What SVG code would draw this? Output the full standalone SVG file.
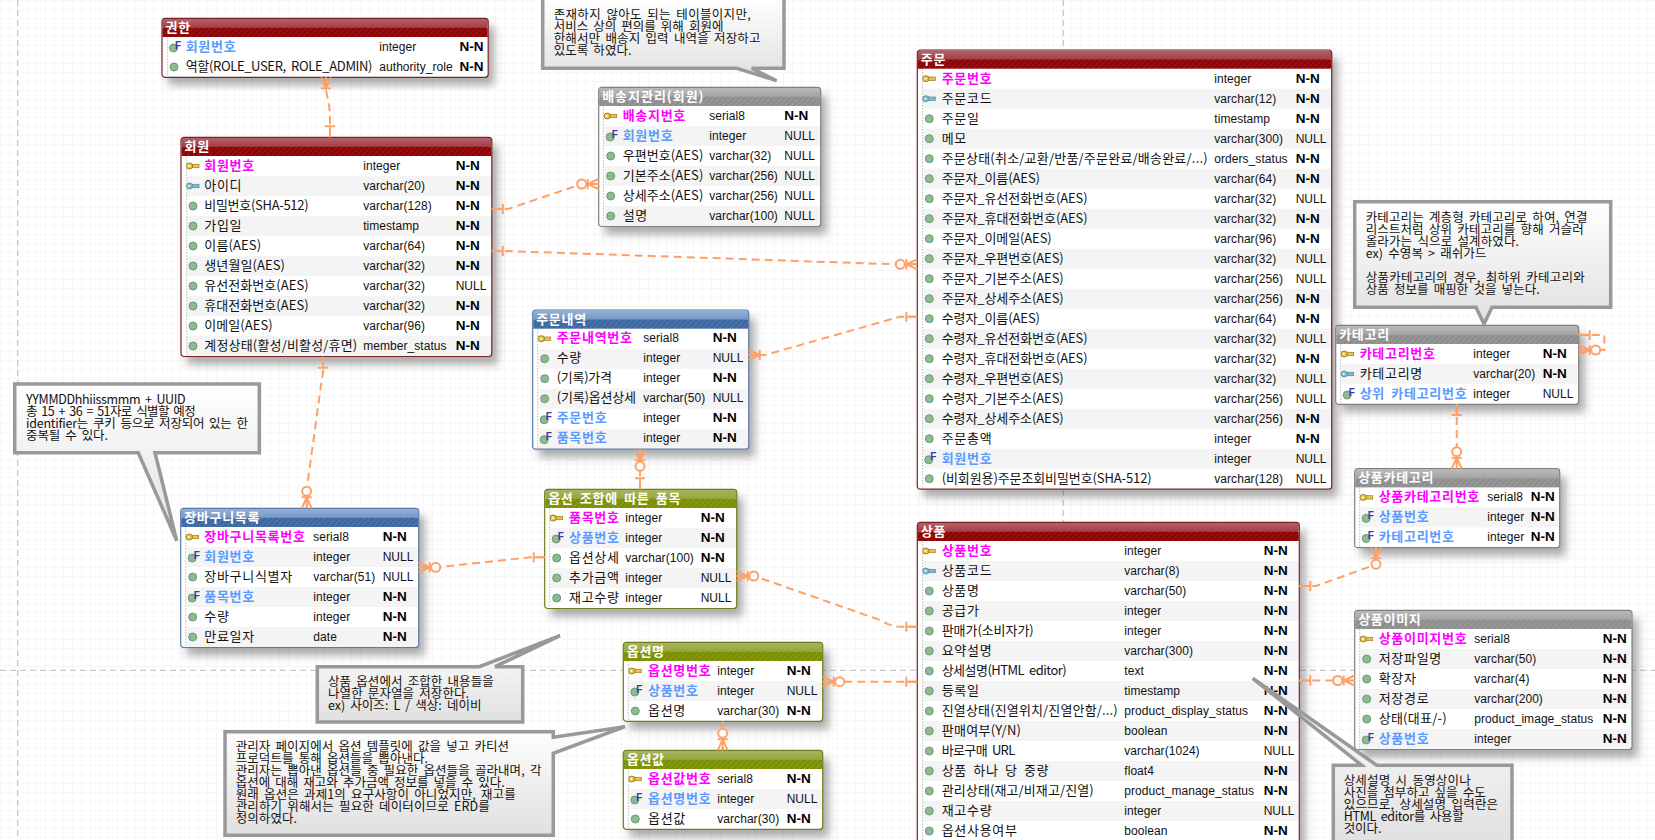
<svg xmlns="http://www.w3.org/2000/svg" width="1655" height="840" viewBox="0 0 1655 840">
<style>
text{font-family:"Noto Sans CJK KR","Liberation Sans",sans-serif;font-size:13px;letter-spacing:.7px;word-spacing:2.7px;fill:#111}
g[id^=t-]:not(#t-order) g text{transform:translateY(-.8px)}
.n{fill:#111}
.k{fill:#ff00ff;font-weight:700}
.f{fill:#5b9bff;font-weight:700}
.y{font-family:"Liberation Sans",sans-serif;font-size:12px;letter-spacing:.05px;word-spacing:0}
.u{font-family:"Liberation Sans",sans-serif;font-size:12px;letter-spacing:0;word-spacing:0}
.b{font-family:"Liberation Sans",sans-serif;font-size:13.5px;font-weight:700;letter-spacing:0;word-spacing:0;fill:#000}
.ht{fill:#fff;font-weight:700}
.t{font-size:12.5px;letter-spacing:.3px;word-spacing:2.3px;fill:#111}
.a{fill:#f4f4f4}
.bg{fill:#fff;filter:url(#sh)}
.fr{fill:none;stroke-width:1.2}
.dl{stroke:#bbb;stroke-width:1;stroke-dasharray:1.5 1.5}
.pg{stroke:#bdbdbd;stroke-width:1;stroke-dasharray:6 4;fill:none}
.c{fill:none;stroke:#ffa066;stroke-width:2;stroke-dasharray:8 5}
.m{fill:none;stroke:#ffa066;stroke-width:2}
.note{fill:url(#ng);stroke:#999;stroke-width:3.5;stroke-linejoin:miter}
.red .hi{fill:url(#lr)}.red .lo{fill:url(#hr)}.red .fr{stroke:#7d2222}
.gray .hi{fill:url(#lg)}.gray .lo{fill:url(#hg)}.gray .fr{stroke:#808080}
.blue .hi{fill:url(#lb)}.blue .lo{fill:url(#hb)}.blue .fr{stroke:#5a7aa8}
.green .hi{fill:url(#lo)}.green .lo{fill:url(#ho)}.green .fr{stroke:#6f7d1a}
</style>
<defs>
<pattern id="grid" width="9" height="9" patternUnits="userSpaceOnUse"><path d="M.5 0V9M0 .5H9" fill="none" stroke="#f7f7f7" stroke-width="1"/></pattern>
<filter id="sh" x="-10%" y="-10%" width="125%" height="130%"><feDropShadow dx="6" dy="8" stdDeviation="4" flood-color="#444" flood-opacity=".45"/></filter>
<linearGradient id="ng" x1="0" y1="0" x2="0" y2="1"><stop offset="0" stop-color="#fff"/><stop offset="1" stop-color="#e0e0e0"/></linearGradient>
<linearGradient id="lr" x1="0" y1="0" x2="0" y2="1"><stop offset="0" stop-color="#b5626a"/><stop offset="1" stop-color="#a03c42"/></linearGradient>
<linearGradient id="lg" x1="0" y1="0" x2="0" y2="1"><stop offset="0" stop-color="#bababa"/><stop offset="1" stop-color="#a2a2a2"/></linearGradient>
<linearGradient id="lb" x1="0" y1="0" x2="0" y2="1"><stop offset="0" stop-color="#94b2d8"/><stop offset="1" stop-color="#7496c6"/></linearGradient>
<linearGradient id="lo" x1="0" y1="0" x2="0" y2="1"><stop offset="0" stop-color="#a8b560"/><stop offset="1" stop-color="#94a63a"/></linearGradient>
<pattern id="hr" width="4" height="4" patternUnits="userSpaceOnUse" patternTransform="rotate(45)"><rect width="4" height="4" fill="#8b0206"/><rect width="2" height="4" fill="#95100f"/></pattern>
<pattern id="hg" width="4" height="4" patternUnits="userSpaceOnUse" patternTransform="rotate(45)"><rect width="4" height="4" fill="#8c8c8c"/><rect width="2" height="4" fill="#979797"/></pattern>
<pattern id="hb" width="4" height="4" patternUnits="userSpaceOnUse" patternTransform="rotate(45)"><rect width="4" height="4" fill="#3d669f"/><rect width="2" height="4" fill="#4a72aa"/></pattern>
<pattern id="ho" width="4" height="4" patternUnits="userSpaceOnUse" patternTransform="rotate(45)"><rect width="4" height="4" fill="#7a8c00"/><rect width="2" height="4" fill="#869810"/></pattern>
<g id="pk"><rect x="-1.5" y="-1.7" width="8" height="3.4" fill="#e9c445" stroke="#a07f1c" stroke-width=".7"/><ellipse cx="-3" cy="0" rx="3.3" ry="3" fill="#e9c445" stroke="#8f6f12" stroke-width=".8"/><circle cx="-3.4" cy="0" r=".9" fill="#fff"/></g>
<g id="ak"><rect x="-1.5" y="-1.7" width="8" height="3.4" fill="#7fbccc" stroke="#4f8a9c" stroke-width=".7"/><ellipse cx="-3" cy="0" rx="3.3" ry="3" fill="#7fbccc" stroke="#4f8a9c" stroke-width=".8"/><circle cx="-3.4" cy="0" r=".9" fill="#fff"/></g>
<circle id="ci" r="4" fill="#8fb98f" stroke="#6a9a78" stroke-width="1"/>
<g id="fk"><circle cx="-.5" cy="1" r="4" fill="#8fb98f" stroke="#6a9a78" stroke-width="1"/><text x="1" y="1.5" style="font-family:'Liberation Sans',sans-serif;font-size:10px;font-weight:700;letter-spacing:0;fill:#3a3aa6">F</text></g>
<marker id="oS" markerUnits="userSpaceOnUse" markerWidth="24" markerHeight="24" refX="0" refY="0" orient="auto" overflow="visible"><path class="m" d="M0 0H11M11 -5V5"/></marker>
<marker id="mE" markerUnits="userSpaceOnUse" markerWidth="24" markerHeight="24" refX="0" refY="0" orient="auto" overflow="visible"><path class="m" d="M0 -5L-11 0L0 5M0 0H-11M-11 -5V5"/></marker>
<marker id="zE" markerUnits="userSpaceOnUse" markerWidth="24" markerHeight="24" refX="0" refY="0" orient="auto" overflow="visible"><path class="m" d="M0 -5L-11 0L0 5M0 0H-11M-11 -5V5"/><circle class="m" cx="-17" cy="0" r="4.5" style="fill:#fff"/></marker>
</defs>

<rect width="1655" height="840" fill="#fff"/>
<rect width="1655" height="840" fill="url(#grid)"/>
<g id="page-lines">
<path class="pg" d="M17.7 0V840"/>
<path class="pg" d="M1063.3 0V840"/>
<path class="pg" d="M0 670.3H1655"/>
</g>

<g id="t-auth" class="red" transform="translate(162,18.3)">
<rect class="bg" width="326.2" height="59" rx="3"/><rect class="hi" x=".5" y=".5" width="325.2" height="9.5" rx="2.5"/><rect class="lo" x=".5" y="9.5" width="325.2" height="9.2"/>
<text class="ht" x="3.5" y="13.5">권한</text>
<path class="dl" d="M5.7 19V58"/>
<g transform="translate(0,33.2)"><use href="#fk" x="12" y="-4.5"/><text class="f" x="23.7">회원번호</text><text class="y" x="217.3">integer</text><text class="b" x="297.6">N-N</text></g>
<g transform="translate(0,53.2)"><use href="#ci" x="12" y="-4.5"/><text class="n" x="23.7" textLength="187.5">역할(ROLE_USER, ROLE_ADMIN)</text><text class="y" x="217.3">authority_role</text><text class="b" x="297.6">N-N</text></g>
<rect class="fr" width="326.2" height="59" rx="3"/>
</g>

<g id="t-member" class="red" transform="translate(181,137.3)">
<rect class="bg" width="310.8" height="219.2" rx="3"/><rect class="hi" x=".5" y=".5" width="309.8" height="9.5" rx="2.5"/><rect class="lo" x=".5" y="9.5" width="309.8" height="9.2"/>
<text class="ht" x="3.5" y="13.5">회원</text>
<g transform="translate(0,33.2)"><use href="#pk" x="11.5" y="-4.5"/><text class="k" x="23.3">회원번호</text><text class="y" x="182.2">integer</text><text class="b" x="274.7">N-N</text></g>
<g transform="translate(0,53.2)"><rect class="a" x="6" y="-14.5" width="304" height="20"/><use href="#ak" x="11.5" y="-4.5"/><text class="n" x="23.3">아이디</text><text class="y" x="182.2">varchar(20)</text><text class="b" x="274.7">N-N</text></g>
<g transform="translate(0,73.2)"><use href="#ci" x="12" y="-4.5"/><text class="n" x="23.3" textLength="105">비밀번호(SHA-512)</text><text class="y" x="182.2">varchar(128)</text><text class="b" x="274.7">N-N</text></g>
<g transform="translate(0,93.2)"><rect class="a" x="6" y="-14.5" width="304" height="20"/><use href="#ci" x="12" y="-4.5"/><text class="n" x="23.3">가입일</text><text class="y" x="182.2">timestamp</text><text class="b" x="274.7">N-N</text></g>
<g transform="translate(0,113.2)"><use href="#ci" x="12" y="-4.5"/><text class="n" x="23.3" textLength="57.5">이름(AES)</text><text class="y" x="182.2">varchar(64)</text><text class="b" x="274.7">N-N</text></g>
<g transform="translate(0,133.2)"><rect class="a" x="6" y="-14.5" width="304" height="20"/><use href="#ci" x="12" y="-4.5"/><text class="n" x="23.3" textLength="81.4">생년월일(AES)</text><text class="y" x="182.2">varchar(32)</text><text class="b" x="274.7">N-N</text></g>
<g transform="translate(0,153.2)"><use href="#ci" x="12" y="-4.5"/><text class="n" x="23.3" textLength="105">유선전화번호(AES)</text><text class="y" x="182.2">varchar(32)</text><text class="u" x="274.7">NULL</text></g>
<g transform="translate(0,173.2)"><rect class="a" x="6" y="-14.5" width="304" height="20"/><use href="#ci" x="12" y="-4.5"/><text class="n" x="23.3" textLength="105">휴대전화번호(AES)</text><text class="y" x="182.2">varchar(32)</text><text class="b" x="274.7">N-N</text></g>
<g transform="translate(0,193.2)"><use href="#ci" x="12" y="-4.5"/><text class="n" x="23.3" textLength="69">이메일(AES)</text><text class="y" x="182.2">varchar(96)</text><text class="b" x="274.7">N-N</text></g>
<g transform="translate(0,213.2)"><rect class="a" x="6" y="-14.5" width="304" height="20"/><use href="#ci" x="12" y="-4.5"/><text class="n" x="23.3" textLength="153.6">계정상태(활성/비활성/휴면)</text><text class="y" x="182.2">member_status</text><text class="b" x="274.7">N-N</text></g>
<path class="dl" d="M5.7 19V218"/>
<rect class="fr" width="310.8" height="219.2" rx="3"/>
</g>

<g id="t-address" class="gray" transform="translate(598.7,87.3)">
<rect class="bg" width="222" height="139.2" rx="3"/><rect class="hi" x=".5" y=".5" width="221" height="9.5" rx="2.5"/><rect class="lo" x=".5" y="9.5" width="221" height="9.2"/>
<text class="ht" x="3.5" y="13.5" textLength="102">배송지관리(회원)</text>
<g transform="translate(0,33.2)"><use href="#pk" x="11.5" y="-4.5"/><text class="k" x="24">배송지번호</text><text class="y" x="110.6">serial8</text><text class="b" x="185.6">N-N</text></g>
<g transform="translate(0,53.2)"><rect class="a" x="6" y="-14.5" width="215" height="20"/><use href="#fk" x="12" y="-4.5"/><text class="f" x="24">회원번호</text><text class="y" x="110.6">integer</text><text class="u" x="185.6">NULL</text></g>
<g transform="translate(0,73.2)"><use href="#ci" x="12" y="-4.5"/><text class="n" x="24" textLength="81.3">우편번호(AES)</text><text class="y" x="110.6">varchar(32)</text><text class="u" x="185.6">NULL</text></g>
<g transform="translate(0,93.2)"><rect class="a" x="6" y="-14.5" width="215" height="20"/><use href="#ci" x="12" y="-4.5"/><text class="n" x="24" textLength="81.3">기본주소(AES)</text><text class="y" x="110.6">varchar(256)</text><text class="u" x="185.6">NULL</text></g>
<g transform="translate(0,113.2)"><use href="#ci" x="12" y="-4.5"/><text class="n" x="24" textLength="81.3">상세주소(AES)</text><text class="y" x="110.6">varchar(256)</text><text class="u" x="185.6">NULL</text></g>
<g transform="translate(0,133.2)"><rect class="a" x="6" y="-14.5" width="215" height="20"/><use href="#ci" x="12" y="-4.5"/><text class="n" x="24">설명</text><text class="y" x="110.6">varchar(100)</text><text class="u" x="185.6">NULL</text></g>
<path class="dl" d="M4.7 19V138"/>
<rect class="fr" width="222" height="139.2" rx="3"/>
</g>

<g id="t-order" class="red" transform="translate(917.3,50)">
<rect class="bg" width="414.4" height="439.2" rx="3"/><rect class="hi" x=".5" y=".5" width="413.4" height="9.5" rx="2.5"/><rect class="lo" x=".5" y="9.5" width="413.4" height="9.2"/>
<text class="ht" x="3.5" y="13.5">주문</text>
<g transform="translate(0,33.2)"><use href="#pk" x="11.5" y="-4.5"/><text class="k" x="24.4">주문번호</text><text class="y" x="297">integer</text><text class="b" x="378.4">N-N</text></g>
<g transform="translate(0,53.2)"><rect class="a" x="6" y="-14.5" width="407.5" height="20"/><use href="#ak" x="11.5" y="-4.5"/><text class="n" x="24.4">주문코드</text><text class="y" x="297">varchar(12)</text><text class="b" x="378.4">N-N</text></g>
<g transform="translate(0,73.2)"><use href="#ci" x="12" y="-4.5"/><text class="n" x="24.4">주문일</text><text class="y" x="297">timestamp</text><text class="b" x="378.4">N-N</text></g>
<g transform="translate(0,93.2)"><rect class="a" x="6" y="-14.5" width="407.5" height="20"/><use href="#ci" x="12" y="-4.5"/><text class="n" x="24.4">메모</text><text class="y" x="297">varchar(300)</text><text class="u" x="378.4">NULL</text></g>
<g transform="translate(0,113.2)"><use href="#ci" x="12" y="-4.5"/><text class="n" x="24.4" textLength="266.7">주문상태(취소/교환/반품/주문완료/배송완료/...)</text><text class="y" x="297">orders_status</text><text class="b" x="378.4">N-N</text></g>
<g transform="translate(0,133.2)"><rect class="a" x="6" y="-14.5" width="407.5" height="20"/><use href="#ci" x="12" y="-4.5"/><text class="n" x="24.4" textLength="99">주문자_이름(AES)</text><text class="y" x="297">varchar(64)</text><text class="b" x="378.4">N-N</text></g>
<g transform="translate(0,153.2)"><use href="#ci" x="12" y="-4.5"/><text class="n" x="24.4" textLength="146.7">주문자_유선전화번호(AES)</text><text class="y" x="297">varchar(32)</text><text class="u" x="378.4">NULL</text></g>
<g transform="translate(0,173.2)"><rect class="a" x="6" y="-14.5" width="407.5" height="20"/><use href="#ci" x="12" y="-4.5"/><text class="n" x="24.4" textLength="146.7">주문자_휴대전화번호(AES)</text><text class="y" x="297">varchar(32)</text><text class="b" x="378.4">N-N</text></g>
<g transform="translate(0,193.2)"><use href="#ci" x="12" y="-4.5"/><text class="n" x="24.4" textLength="110.7">주문자_이메일(AES)</text><text class="y" x="297">varchar(96)</text><text class="b" x="378.4">N-N</text></g>
<g transform="translate(0,213.2)"><rect class="a" x="6" y="-14.5" width="407.5" height="20"/><use href="#ci" x="12" y="-4.5"/><text class="n" x="24.4" textLength="122.7">주문자_우편번호(AES)</text><text class="y" x="297">varchar(32)</text><text class="u" x="378.4">NULL</text></g>
<g transform="translate(0,233.2)"><use href="#ci" x="12" y="-4.5"/><text class="n" x="24.4" textLength="122.7">주문자_기본주소(AES)</text><text class="y" x="297">varchar(256)</text><text class="u" x="378.4">NULL</text></g>
<g transform="translate(0,253.2)"><rect class="a" x="6" y="-14.5" width="407.5" height="20"/><use href="#ci" x="12" y="-4.5"/><text class="n" x="24.4" textLength="122.7">주문자_상세주소(AES)</text><text class="y" x="297">varchar(256)</text><text class="b" x="378.4">N-N</text></g>
<g transform="translate(0,273.2)"><use href="#ci" x="12" y="-4.5"/><text class="n" x="24.4" textLength="99">수령자_이름(AES)</text><text class="y" x="297">varchar(64)</text><text class="b" x="378.4">N-N</text></g>
<g transform="translate(0,293.2)"><rect class="a" x="6" y="-14.5" width="407.5" height="20"/><use href="#ci" x="12" y="-4.5"/><text class="n" x="24.4" textLength="146.7">수령자_유선전화번호(AES)</text><text class="y" x="297">varchar(32)</text><text class="u" x="378.4">NULL</text></g>
<g transform="translate(0,313.2)"><use href="#ci" x="12" y="-4.5"/><text class="n" x="24.4" textLength="146.7">수령자_휴대전화번호(AES)</text><text class="y" x="297">varchar(32)</text><text class="b" x="378.4">N-N</text></g>
<g transform="translate(0,333.2)"><rect class="a" x="6" y="-14.5" width="407.5" height="20"/><use href="#ci" x="12" y="-4.5"/><text class="n" x="24.4" textLength="122.7">수령자_우편번호(AES)</text><text class="y" x="297">varchar(32)</text><text class="u" x="378.4">NULL</text></g>
<g transform="translate(0,353.2)"><use href="#ci" x="12" y="-4.5"/><text class="n" x="24.4" textLength="122.7">수령자_기본주소(AES)</text><text class="y" x="297">varchar(256)</text><text class="u" x="378.4">NULL</text></g>
<g transform="translate(0,373.2)"><rect class="a" x="6" y="-14.5" width="407.5" height="20"/><use href="#ci" x="12" y="-4.5"/><text class="n" x="24.4" textLength="122.7">수령자_상세주소(AES)</text><text class="y" x="297">varchar(256)</text><text class="b" x="378.4">N-N</text></g>
<g transform="translate(0,393.2)"><use href="#ci" x="12" y="-4.5"/><text class="n" x="24.4">주문총액</text><text class="y" x="297">integer</text><text class="b" x="378.4">N-N</text></g>
<g transform="translate(0,413.2)"><rect class="a" x="6" y="-14.5" width="407.5" height="20"/><use href="#fk" x="12" y="-4.5"/><text class="f" x="24.4">회원번호</text><text class="y" x="297">integer</text><text class="u" x="378.4">NULL</text></g>
<g transform="translate(0,433.2)"><use href="#ci" x="12" y="-4.5"/><text class="n" x="24.4" textLength="210.7">(비회원용)주문조회비밀번호(SHA-512)</text><text class="y" x="297">varchar(128)</text><text class="u" x="378.4">NULL</text></g>
<path class="dl" d="M5.3 19V438"/>
<rect class="fr" width="414.4" height="439.2" rx="3"/>
</g>

<g id="t-category" class="gray" transform="translate(1335.7,325.3)">
<rect class="bg" width="243" height="79" rx="3"/><rect class="hi" x=".5" y=".5" width="242" height="9.5" rx="2.5"/><rect class="lo" x=".5" y="9.5" width="242" height="9.2"/>
<text class="ht" x="3.5" y="13.5">카테고리</text>
<g transform="translate(0,33.2)"><use href="#pk" x="11.5" y="-4.5"/><text class="k" x="24">카테고리번호</text><text class="y" x="137.6">integer</text><text class="b" x="207">N-N</text></g>
<g transform="translate(0,53.2)"><rect class="a" x="6" y="-14.5" width="236" height="20"/><use href="#ak" x="11.5" y="-4.5"/><text class="n" x="24">카테고리명</text><text class="y" x="137.6">varchar(20)</text><text class="b" x="207">N-N</text></g>
<g transform="translate(0,73.2)"><use href="#fk" x="12" y="-4.5"/><text class="f" x="24">상위 카테고리번호</text><text class="y" x="137.6">integer</text><text class="u" x="207">NULL</text></g>
<path class="dl" d="M5 19V78"/>
<rect class="fr" width="243" height="79" rx="3"/>
</g>

<g id="t-product-category" class="gray" transform="translate(1354.7,468.7)">
<rect class="bg" width="205" height="79" rx="3"/><rect class="hi" x=".5" y=".5" width="204" height="9.5" rx="2.5"/><rect class="lo" x=".5" y="9.5" width="204" height="9.2"/>
<text class="ht" x="3.5" y="13.5">상품카테고리</text>
<g transform="translate(0,33.2)"><use href="#pk" x="11.5" y="-4.5"/><text class="k" x="24">상품카테고리번호</text><text class="y" x="132.6">serial8</text><text class="b" x="176">N-N</text></g>
<g transform="translate(0,53.2)"><rect class="a" x="6" y="-14.5" width="198" height="20"/><use href="#fk" x="12" y="-4.5"/><text class="f" x="24">상품번호</text><text class="y" x="132.6">integer</text><text class="b" x="176">N-N</text></g>
<g transform="translate(0,73.2)"><use href="#fk" x="12" y="-4.5"/><text class="f" x="24">카테고리번호</text><text class="y" x="132.6">integer</text><text class="b" x="176">N-N</text></g>
<path class="dl" d="M5 19V78"/>
<rect class="fr" width="205" height="79" rx="3"/>
</g>

<g id="t-cart" class="blue" transform="translate(180.7,508.3)">
<rect class="bg" width="238" height="139.2" rx="3"/><rect class="hi" x=".5" y=".5" width="237" height="9.5" rx="2.5"/><rect class="lo" x=".5" y="9.5" width="237" height="9.2"/>
<text class="ht" x="3.5" y="13.5">장바구니목록</text>
<g transform="translate(0,33.2)"><use href="#pk" x="11.5" y="-4.5"/><text class="k" x="23.6">장바구니목록번호</text><text class="y" x="132.6">serial8</text><text class="b" x="202">N-N</text></g>
<g transform="translate(0,53.2)"><rect class="a" x="6" y="-14.5" width="231" height="20"/><use href="#fk" x="12" y="-4.5"/><text class="f" x="23.6">회원번호</text><text class="y" x="132.6">integer</text><text class="u" x="202">NULL</text></g>
<g transform="translate(0,73.2)"><use href="#ci" x="12" y="-4.5"/><text class="n" x="23.6">장바구니식별자</text><text class="y" x="132.6">varchar(51)</text><text class="u" x="202">NULL</text></g>
<g transform="translate(0,93.2)"><rect class="a" x="6" y="-14.5" width="231" height="20"/><use href="#fk" x="12" y="-4.5"/><text class="f" x="23.6">품목번호</text><text class="y" x="132.6">integer</text><text class="b" x="202">N-N</text></g>
<g transform="translate(0,113.2)"><use href="#ci" x="12" y="-4.5"/><text class="n" x="23.6">수량</text><text class="y" x="132.6">integer</text><text class="b" x="202">N-N</text></g>
<g transform="translate(0,133.2)"><rect class="a" x="6" y="-14.5" width="231" height="20"/><use href="#ci" x="12" y="-4.5"/><text class="n" x="23.6">만료일자</text><text class="y" x="132.6">date</text><text class="b" x="202">N-N</text></g>
<path class="dl" d="M5 19V138"/>
<rect class="fr" width="238" height="139.2" rx="3"/>
</g>

<g id="t-order-item" class="blue" transform="translate(532.7,310)">
<rect class="bg" width="216" height="139.2" rx="3"/><rect class="hi" x=".5" y=".5" width="215" height="9.5" rx="2.5"/><rect class="lo" x=".5" y="9.5" width="215" height="9.2"/>
<text class="ht" x="3.5" y="13.5">주문내역</text>
<g transform="translate(0,33.2)"><use href="#pk" x="11.5" y="-4.5"/><text class="k" x="24">주문내역번호</text><text class="y" x="110.6">serial8</text><text class="b" x="180">N-N</text></g>
<g transform="translate(0,53.2)"><rect class="a" x="6" y="-14.5" width="209" height="20"/><use href="#ci" x="12" y="-4.5"/><text class="n" x="24">수량</text><text class="y" x="110.6">integer</text><text class="u" x="180">NULL</text></g>
<g transform="translate(0,73.2)"><use href="#ci" x="12" y="-4.5"/><text class="n" x="24" textLength="56">(기록)가격</text><text class="y" x="110.6">integer</text><text class="b" x="180">N-N</text></g>
<g transform="translate(0,93.2)"><rect class="a" x="6" y="-14.5" width="209" height="20"/><use href="#ci" x="12" y="-4.5"/><text class="n" x="24" textLength="80">(기록)옵션상세</text><text class="y" x="110.6">varchar(50)</text><text class="u" x="180">NULL</text></g>
<g transform="translate(0,113.2)"><use href="#fk" x="12" y="-4.5"/><text class="f" x="24">주문번호</text><text class="y" x="110.6">integer</text><text class="b" x="180">N-N</text></g>
<g transform="translate(0,133.2)"><rect class="a" x="6" y="-14.5" width="209" height="20"/><use href="#fk" x="12" y="-4.5"/><text class="f" x="24">품목번호</text><text class="y" x="110.6">integer</text><text class="b" x="180">N-N</text></g>
<path class="dl" d="M5 19V138"/>
<rect class="fr" width="216" height="139.2" rx="3"/>
</g>

<g id="t-sku" class="green" transform="translate(544.7,489.3)">
<rect class="bg" width="192" height="119.2" rx="3"/><rect class="hi" x=".5" y=".5" width="191" height="9.5" rx="2.5"/><rect class="lo" x=".5" y="9.5" width="191" height="9.2"/>
<text class="ht" x="3.5" y="13.5">옵션 조합에 따른 품목</text>
<g transform="translate(0,33.2)"><use href="#pk" x="11.5" y="-4.5"/><text class="k" x="24.3">품목번호</text><text class="y" x="80.6">integer</text><text class="b" x="156">N-N</text></g>
<g transform="translate(0,53.2)"><rect class="a" x="6" y="-14.5" width="185" height="20"/><use href="#fk" x="12" y="-4.5"/><text class="f" x="24.3">상품번호</text><text class="y" x="80.6">integer</text><text class="b" x="156">N-N</text></g>
<g transform="translate(0,73.2)"><use href="#ci" x="12" y="-4.5"/><text class="n" x="24.3">옵션상세</text><text class="y" x="80.6">varchar(100)</text><text class="b" x="156">N-N</text></g>
<g transform="translate(0,93.2)"><rect class="a" x="6" y="-14.5" width="185" height="20"/><use href="#ci" x="12" y="-4.5"/><text class="n" x="24.3">추가금액</text><text class="y" x="80.6">integer</text><text class="u" x="156">NULL</text></g>
<g transform="translate(0,113.2)"><use href="#ci" x="12" y="-4.5"/><text class="n" x="24.3">재고수량</text><text class="y" x="80.6">integer</text><text class="u" x="156">NULL</text></g>
<path class="dl" d="M5 19V118"/>
<rect class="fr" width="192" height="119.2" rx="3"/>
</g>

<g id="t-option-name" class="green" transform="translate(623.3,642.3)">
<rect class="bg" width="199.4" height="79" rx="3"/><rect class="hi" x=".5" y=".5" width="198.4" height="9.5" rx="2.5"/><rect class="lo" x=".5" y="9.5" width="198.4" height="9.2"/>
<text class="ht" x="3.5" y="13.5">옵션명</text>
<g transform="translate(0,33.2)"><use href="#pk" x="11.5" y="-4.5"/><text class="k" x="24.7">옵션명번호</text><text class="y" x="94">integer</text><text class="b" x="163.4">N-N</text></g>
<g transform="translate(0,53.2)"><rect class="a" x="6" y="-14.5" width="192.5" height="20"/><use href="#fk" x="12" y="-4.5"/><text class="f" x="24.7">상품번호</text><text class="y" x="94">integer</text><text class="u" x="163.4">NULL</text></g>
<g transform="translate(0,73.2)"><use href="#ci" x="12" y="-4.5"/><text class="n" x="24.7">옵션명</text><text class="y" x="94">varchar(30)</text><text class="b" x="163.4">N-N</text></g>
<path class="dl" d="M5 19V78"/>
<rect class="fr" width="199.4" height="79" rx="3"/>
</g>

<g id="t-option-value" class="green" transform="translate(623.3,750.3)">
<rect class="bg" width="199.4" height="79" rx="3"/><rect class="hi" x=".5" y=".5" width="198.4" height="9.5" rx="2.5"/><rect class="lo" x=".5" y="9.5" width="198.4" height="9.2"/>
<text class="ht" x="3.5" y="13.5">옵션값</text>
<g transform="translate(0,33.2)"><use href="#pk" x="11.5" y="-4.5"/><text class="k" x="24.7">옵션값번호</text><text class="y" x="94">serial8</text><text class="b" x="163.4">N-N</text></g>
<g transform="translate(0,53.2)"><rect class="a" x="6" y="-14.5" width="192.5" height="20"/><use href="#fk" x="12" y="-4.5"/><text class="f" x="24.7">옵션명번호</text><text class="y" x="94">integer</text><text class="u" x="163.4">NULL</text></g>
<g transform="translate(0,73.2)"><use href="#ci" x="12" y="-4.5"/><text class="n" x="24.7">옵션값</text><text class="y" x="94">varchar(30)</text><text class="b" x="163.4">N-N</text></g>
<path class="dl" d="M5 19V78"/>
<rect class="fr" width="199.4" height="79" rx="3"/>
</g>

<g id="t-product" class="red" transform="translate(917.3,522.3)">
<rect class="bg" width="382" height="340" rx="3"/><rect class="hi" x=".5" y=".5" width="381" height="9.5" rx="2.5"/><rect class="lo" x=".5" y="9.5" width="381" height="9.2"/>
<text class="ht" x="3.5" y="13.5">상품</text>
<g transform="translate(0,33.2)"><use href="#pk" x="11.5" y="-4.5"/><text class="k" x="24.4">상품번호</text><text class="y" x="207">integer</text><text class="b" x="346.4">N-N</text></g>
<g transform="translate(0,53.2)"><rect class="a" x="6" y="-14.5" width="375" height="20"/><use href="#ak" x="11.5" y="-4.5"/><text class="n" x="24.4">상품코드</text><text class="y" x="207">varchar(8)</text><text class="b" x="346.4">N-N</text></g>
<g transform="translate(0,73.2)"><use href="#ci" x="12" y="-4.5"/><text class="n" x="24.4">상품명</text><text class="y" x="207">varchar(50)</text><text class="b" x="346.4">N-N</text></g>
<g transform="translate(0,93.2)"><rect class="a" x="6" y="-14.5" width="375" height="20"/><use href="#ci" x="12" y="-4.5"/><text class="n" x="24.4">공급가</text><text class="y" x="207">integer</text><text class="b" x="346.4">N-N</text></g>
<g transform="translate(0,113.2)"><use href="#ci" x="12" y="-4.5"/><text class="n" x="24.4" textLength="92.7">판매가(소비자가)</text><text class="y" x="207">integer</text><text class="b" x="346.4">N-N</text></g>
<g transform="translate(0,133.2)"><rect class="a" x="6" y="-14.5" width="375" height="20"/><use href="#ci" x="12" y="-4.5"/><text class="n" x="24.4">요약설명</text><text class="y" x="207">varchar(300)</text><text class="b" x="346.4">N-N</text></g>
<g transform="translate(0,153.2)"><use href="#ci" x="12" y="-4.5"/><text class="n" x="24.4" textLength="125.7">상세설명(HTML editor)</text><text class="y" x="207">text</text><text class="b" x="346.4">N-N</text></g>
<g transform="translate(0,173.2)"><rect class="a" x="6" y="-14.5" width="375" height="20"/><use href="#ci" x="12" y="-4.5"/><text class="n" x="24.4">등록일</text><text class="y" x="207">timestamp</text><text class="b" x="346.4">N-N</text></g>
<g transform="translate(0,193.2)"><use href="#ci" x="12" y="-4.5"/><text class="n" x="24.4" textLength="176.7">진열상태(진열위치/진열안함/...)</text><text class="y" x="207">product_display_status</text><text class="b" x="346.4">N-N</text></g>
<g transform="translate(0,213.2)"><rect class="a" x="6" y="-14.5" width="375" height="20"/><use href="#ci" x="12" y="-4.5"/><text class="n" x="24.4" textLength="80">판매여부(Y/N)</text><text class="y" x="207">boolean</text><text class="b" x="346.4">N-N</text></g>
<g transform="translate(0,233.2)"><use href="#ci" x="12" y="-4.5"/><text class="n" x="24.4" textLength="74.3">바로구매 URL</text><text class="y" x="207">varchar(1024)</text><text class="u" x="346.4">NULL</text></g>
<g transform="translate(0,253.2)"><rect class="a" x="6" y="-14.5" width="375" height="20"/><use href="#ci" x="12" y="-4.5"/><text class="n" x="24.4">상품 하나 당 중량</text><text class="y" x="207">float4</text><text class="b" x="346.4">N-N</text></g>
<g transform="translate(0,273.2)"><use href="#ci" x="12" y="-4.5"/><text class="n" x="24.4" textLength="152.7">관리상태(재고/비재고/진열)</text><text class="y" x="207">product_manage_status</text><text class="b" x="346.4">N-N</text></g>
<g transform="translate(0,293.2)"><rect class="a" x="6" y="-14.5" width="375" height="20"/><use href="#ci" x="12" y="-4.5"/><text class="n" x="24.4">재고수량</text><text class="y" x="207">integer</text><text class="u" x="346.4">NULL</text></g>
<g transform="translate(0,313.2)"><use href="#ci" x="12" y="-4.5"/><text class="n" x="24.4">옵션사용여부</text><text class="y" x="207">boolean</text><text class="b" x="346.4">N-N</text></g>
<path class="dl" d="M5.3 19V340"/>
<rect class="fr" width="382" height="340" rx="3"/>
</g>

<g id="t-product-image" class="gray" transform="translate(1354.7,610.3)">
<rect class="bg" width="277.3" height="139.2" rx="3"/><rect class="hi" x=".5" y=".5" width="276.3" height="9.5" rx="2.5"/><rect class="lo" x=".5" y="9.5" width="276.3" height="9.2"/>
<text class="ht" x="3.5" y="13.5">상품이미지</text>
<g transform="translate(0,33.2)"><use href="#pk" x="11.5" y="-4.5"/><text class="k" x="24">상품이미지번호</text><text class="y" x="119.6">serial8</text><text class="b" x="248">N-N</text></g>
<g transform="translate(0,53.2)"><rect class="a" x="6" y="-14.5" width="270" height="20"/><use href="#ci" x="12" y="-4.5"/><text class="n" x="24">저장파일명</text><text class="y" x="119.6">varchar(50)</text><text class="b" x="248">N-N</text></g>
<g transform="translate(0,73.2)"><use href="#ci" x="12" y="-4.5"/><text class="n" x="24">확장자</text><text class="y" x="119.6">varchar(4)</text><text class="b" x="248">N-N</text></g>
<g transform="translate(0,93.2)"><rect class="a" x="6" y="-14.5" width="270" height="20"/><use href="#ci" x="12" y="-4.5"/><text class="n" x="24">저장경로</text><text class="y" x="119.6">varchar(200)</text><text class="b" x="248">N-N</text></g>
<g transform="translate(0,113.2)"><use href="#ci" x="12" y="-4.5"/><text class="n" x="24" textLength="68.7">상태(대표/-)</text><text class="y" x="119.6">product_image_status</text><text class="b" x="248">N-N</text></g>
<g transform="translate(0,133.2)"><rect class="a" x="6" y="-14.5" width="270" height="20"/><use href="#fk" x="12" y="-4.5"/><text class="f" x="24">상품번호</text><text class="y" x="119.6">integer</text><text class="b" x="248">N-N</text></g>
<path class="dl" d="M5 19V138"/>
<rect class="fr" width="277.3" height="139.2" rx="3"/>
</g>

<g id="connectors">
<path class="c" marker-start="url(#oS)" marker-end="url(#mE)" d="M330 137.3V120Q330 112 329 105L326 90V77.3"/>
<path class="c" marker-start="url(#oS)" marker-end="url(#zE)" d="M491.8 209H508L576 186Q578 184 582 184H598.7"/>
<path class="c" marker-start="url(#oS)" marker-end="url(#zE)" d="M491.8 251H505L895 264.3H917.3"/>
<path class="c" marker-start="url(#oS)" marker-end="url(#mE)" d="M917.3 316.7H900L765 355H748.7"/>
<path class="c" marker-start="url(#oS)" marker-end="url(#zE)" d="M323 356.7V372Q322 380 321 385L308 480Q306.7 487 306.7 492V508.3"/>
<path class="c" marker-start="url(#oS)" marker-end="url(#zE)" d="M640 489.3V449.3"/>
<path class="c" marker-start="url(#oS)" marker-end="url(#zE)" d="M544.7 557.3H530L445 566.5Q442 567.3 438 567.3H418.7"/>
<path class="c" marker-start="url(#oS)" marker-end="url(#zE)" d="M917.3 626.7H898Q890 626 880 620L757 577Q754 576 750 576H736.7"/>
<path class="c" marker-start="url(#oS)" marker-end="url(#zE)" d="M917.3 681.7H822.7"/>
<path class="c" marker-end="url(#zE)" d="M722.7 721.3V750.3"/>
<path class="c" marker-start="url(#oS)" marker-end="url(#zE)" d="M1299.3 680.5H1354.7"/>
<path class="c" marker-start="url(#oS)" marker-end="url(#zE)" d="M1299.3 586H1316L1366 568Q1376 564 1376 558V547.3"/>
<path class="c" marker-start="url(#oS)" marker-end="url(#zE)" d="M1578.7 335H1604.3V350H1578.7"/>
<path class="c" marker-start="url(#oS)" marker-end="url(#zE)" d="M1456.7 404V468.7"/>
</g>

<g id="note-address">
<polygon class="note" points="542.7,-2 784,-2 784,68.3 751.7,68.3 776.7,80.7 736.7,68.3 542.7,68.3"/>
<text class="t" x="553.7" y="18.5" textLength="197.3">존재하지 않아도 되는 테이블이지만,</text>
<text class="t" x="553.7" y="30.5" textLength="170">서비스 상의 편의를 위해 회원에</text>
<text class="t" x="553.7" y="42.5" textLength="207">한해서만 배송지 입력 내역을 저장하고</text>
<text class="t" x="553.7" y="54.5" textLength="78">있도록 하였다.</text>
</g>
<g id="note-category">
<polygon class="note" points="1354.7,201.7 1610.7,201.7 1610.7,307.3 1492,307.3 1484,324 1476,307.3 1354.7,307.3"/>
<text class="t" x="1365.7" y="221.8" textLength="222">카테고리는 계층형 카테고리로 하여, 연결</text>
<text class="t" x="1365.7" y="233.8" textLength="218.3">리스트처럼 상위 카테고리를 향해 거슬러</text>
<text class="t" x="1365.7" y="245.8" textLength="153.7">올라가는 식으로 설계하였다.</text>
<text class="t" x="1365.7" y="257.8" textLength="121">ex) 수영복 &gt; 래쉬가드</text>
<text class="t" x="1365.7" y="281.8" textLength="219.3">상품카테고리의 경우, 최하위 카테고리와</text>
<text class="t" x="1365.7" y="293.8" textLength="174.3">상품 정보를 매핑한 것을 넣는다.</text>
</g>
<g id="note-cart">
<polygon class="note" points="14.7,384 259.3,384 259.3,452.7 155,452.7 176.7,540.7 138.3,452.7 14.7,452.7"/>
<text class="t" x="26" y="403.8" textLength="160">YYMMDDhhiissmmm + UUID</text>
<text class="t" x="26" y="415.8" textLength="170">총 15 + 36 = 51자로 식별할 예정</text>
<text class="t" x="26" y="427.8" textLength="222.3">identifier는 쿠키 등으로 저장되어 있는 한</text>
<text class="t" x="26" y="439.8" textLength="82.3">중복될 수 있다.</text>
</g>
<g id="note-option-detail">
<polygon class="note" points="317.3,666.7 479.3,666.7 560,635.7 495,666.7 522.7,666.7 522.7,722 317.3,722"/>
<text class="t" x="328" y="685.5" textLength="166">상품 옵션에서 조합한 내용들을</text>
<text class="t" x="328" y="697.5" textLength="141.3">나열한 문자열을 저장한다.</text>
<text class="t" x="328" y="709.5" textLength="153.7">ex) 사이즈: L / 색상: 네이비</text>
</g>
<g id="note-option">
<polygon class="note" points="225,731.7 553.3,731.7 553.3,737.3 625,726.7 553.3,753.3 553.3,835.3 225,835.3"/>
<text class="t" x="235.7" y="751.2" textLength="273.7">관리자 페이지에서 옵션 템플릿에 값을 넣고 카티션</text>
<text class="t" x="235.7" y="763.2" textLength="192.7">프로덕트를 통해 옵션들을 뽑아낸다.</text>
<text class="t" x="235.7" y="775.2" textLength="306">관리자는 뽑아낸 옵션들 중 필요한 옵션들을 골라내며, 각</text>
<text class="t" x="235.7" y="787.2" textLength="269.3">옵션에 대해 재고와 추가금액 정보를 넣을 수 있다.</text>
<text class="t" x="235.7" y="799.2" textLength="280.3">원래 옵션은 과제1의 요구사항이 아니었지만, 재고를</text>
<text class="t" x="235.7" y="811.2" textLength="254.3">관리하기 위해서는 필요한 데이터이므로 ERD를</text>
<text class="t" x="235.7" y="823.2" textLength="61.7">정의하였다.</text>
</g>
<g id="note-detail">
<polygon class="note" points="1333.3,765.3 1361.7,765.3 1252.7,678.3 1376.7,765.3 1512,765.3 1512,845 1333.3,845"/>
<text class="t" x="1343.7" y="785.2" textLength="127.3">상세설명 시 동영상이나</text>
<text class="t" x="1343.7" y="797.2" textLength="142.3">사진을 첨부하고 싶을 수도</text>
<text class="t" x="1343.7" y="809.2" textLength="154.7">있으므로, 상세설명 입력란은</text>
<text class="t" x="1343.7" y="821.2" textLength="120.3">HTML editor를 사용할</text>
<text class="t" x="1343.7" y="833.2" textLength="38">것이다.</text>
</g>
</svg>
